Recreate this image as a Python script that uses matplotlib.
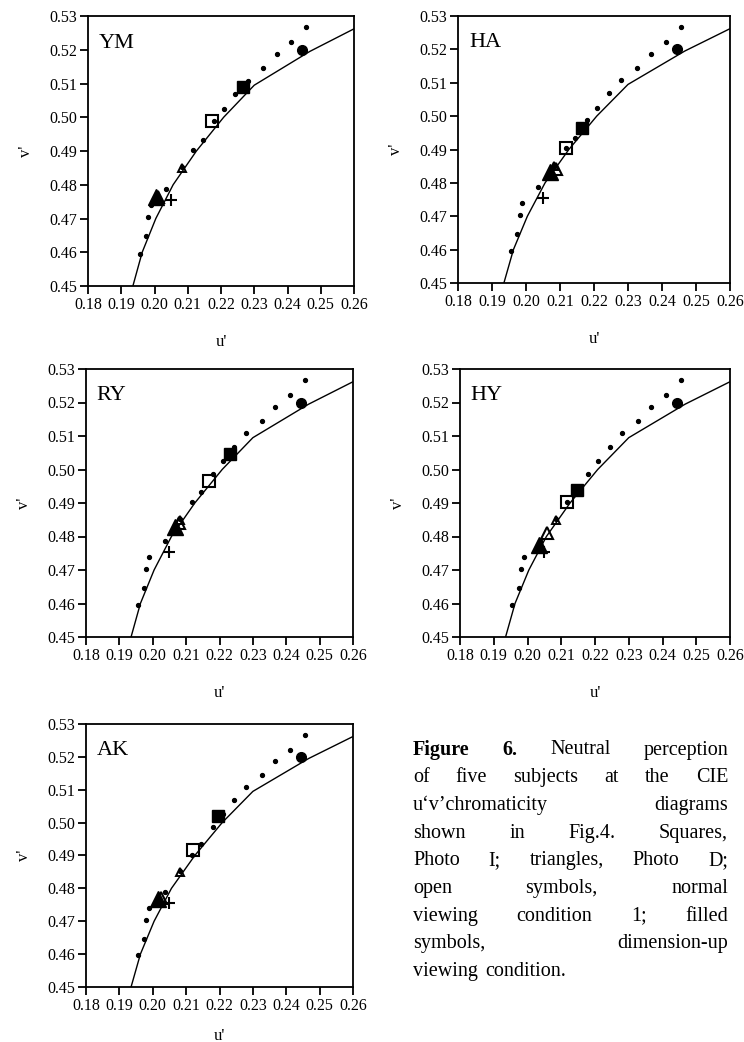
import matplotlib
matplotlib.use("Agg")
import matplotlib.pyplot as plt

plt.rcParams['font.family'] = ['Liberation Serif', 'DejaVu Serif']

# Planckian locus (solid line), u' and v'
locus_u = [0.1935, 0.1963, 0.2004, 0.2056, 0.2126, 0.2208, 0.2300, 0.2467, 0.2600]
locus_v = [0.4500, 0.4600, 0.4700, 0.4800, 0.4900, 0.5000, 0.5095, 0.5195, 0.5262]

# Daylight locus (dots)
daylight_u = [0.1955, 0.1974, 0.1981, 0.1989, 0.2036, 0.2083, 0.2117, 0.2145,
              0.2180, 0.2210, 0.2243, 0.2280, 0.2327, 0.2367, 0.2411, 0.2455]
daylight_v = [0.4596, 0.4647, 0.4703, 0.4740, 0.4788, 0.4852, 0.4903, 0.4934,
              0.4988, 0.5025, 0.5068, 0.5108, 0.5145, 0.5186, 0.5222, 0.5268]

# Reference points common to every subject
ref_plus = (0.2050, 0.4755)
ref_open_tri = (0.2083, 0.4850)
ref_circle = (0.2443, 0.5200)

subjects = ["YM", "HA", "RY", "HY", "AK"]
# Photo I (squares): normal viewing (open) and dimension-up viewing (filled)
sq_open_u = [0.2174, 0.2117, 0.2169, 0.2118, 0.2122]
sq_open_v = [0.4990, 0.4904, 0.4967, 0.4904, 0.4917]
sq_fill_u = [0.2266, 0.2164, 0.2231, 0.2148, 0.2196]
sq_fill_v = [0.5090, 0.4963, 0.5045, 0.4940, 0.5020]
# Photo D (triangles): normal viewing (open) and dimension-up viewing (filled)
tri_open_u = [0.2010, 0.2088, 0.2080, 0.2057, 0.2025]
tri_open_v = [0.4765, 0.4842, 0.4840, 0.4809, 0.4770]
tri_fill_u = [0.2006, 0.2070, 0.2068, 0.2033, 0.2017]
tri_fill_v = [0.4765, 0.4833, 0.4828, 0.4775, 0.4767]

x_ticks = [0.18, 0.19, 0.20, 0.21, 0.22, 0.23, 0.24, 0.25, 0.26]
y_ticks = [0.45, 0.46, 0.47, 0.48, 0.49, 0.50, 0.51, 0.52, 0.53]

W, H = 744, 1042
fig = plt.figure(figsize=(W / 100, H / 100), dpi=100)

# panel boxes in pixels: left, right, top, bottom, gap below axis to u' label
boxes = [(88, 354, 16, 286, 48), (458, 730, 16, 283, 48),
         (86, 353, 369, 637, 48), (460, 730, 369, 637, 48),
         (86, 353, 724, 987, 41)]

for i, name in enumerate(subjects):
    l, r, t, b, xgap = boxes[i]
    ax = fig.add_axes([l / W, 1 - b / H, (r - l) / W, (b - t) / H])
    ax.plot(locus_u, locus_v, color='black', lw=1.0, zorder=2)
    ax.plot(daylight_u, daylight_v, ls='none', marker='o', ms=2.8,
            color='black', zorder=3)
    ax.plot(*ref_circle, marker='o', ms=7, color='black', ls='none', zorder=4)
    ax.plot(*ref_plus, marker='+', ms=8, mew=1.5, color='black', ls='none', zorder=4)
    ax.plot(*ref_open_tri, marker='^', ms=6, mew=1.4, mfc='none', mec='black',
            ls='none', zorder=4)
    ax.plot(tri_open_u[i], tri_open_v[i], marker='^', ms=9, mew=1.5, mfc='none',
            mec='black', ls='none', zorder=4)
    ax.plot(tri_fill_u[i], tri_fill_v[i], marker='^', ms=11, color='black',
            ls='none', zorder=5)
    ax.plot(sq_open_u[i], sq_open_v[i], marker='s', ms=9, mew=1.5, mfc='none',
            mec='black', ls='none', zorder=5)
    ax.plot(sq_fill_u[i], sq_fill_v[i], marker='s', ms=9, color='black',
            ls='none', zorder=5)

    ax.set_xlim(0.18, 0.26)
    ax.set_ylim(0.45, 0.53)
    ax.set_xticks(x_ticks)
    ax.set_yticks(y_ticks)
    ax.set_xticklabels([f"{v:.2f}" for v in x_ticks])
    ax.set_yticklabels([f"{v:.2f}" for v in y_ticks])
    ax.tick_params(direction='out', length=6, width=1.3, labelsize=11.5,
                   pad=2, top=False, right=False)
    for s in ax.spines.values():
        s.set_linewidth(1.3)
    ax.set_xlabel("u'", fontsize=12)
    ax.set_ylabel("v'", fontsize=12)
    ax.xaxis.set_label_coords(0.5, -xgap / (b - t))
    ax.yaxis.set_label_coords(-54 / (r - l), 0.5)
    ax.text(0.04, 0.935, name, transform=ax.transAxes, fontsize=16,
            ha='left', va='top')

# Caption, set as a justified paragraph
caption_lines = [
    [("Figure", 'bold'), ("6.", 'bold'), ("Neutral", 'normal'), ("perception", 'normal')],
    "of five subjects at the CIE",
    "u\u2018v\u2019chromaticity diagrams",
    "shown in Fig.4. Squares,",
    "Photo I; triangles, Photo D;",
    "open symbols, normal",
    "viewing condition 1; filled",
    "symbols, dimension-up",
    "viewing condition.",
]
x_left, x_right = 413, 728
y0, dy = 750, 27.7
fs = 14.5
fig.canvas.draw()
renderer = fig.canvas.get_renderer()
for k, line in enumerate(caption_lines):
    if isinstance(line, str):
        words = [(w, 'normal') for w in line.split()]
    else:
        words = line
    y = 1 - (y0 + k * dy) / H
    texts = []
    widths = []
    for w, weight in words:
        t = fig.text(0, y, w, fontsize=fs, fontweight=weight, va='center', ha='left')
        bb = t.get_window_extent(renderer=renderer)
        texts.append(t)
        widths.append(bb.width)
    last = (k == len(caption_lines) - 1)
    if last or len(words) == 1:
        gap = fs * 0.35 * 100 / 72
    else:
        gap = (x_right - x_left - sum(widths)) / (len(words) - 1)
    x = x_left
    for t, wd in zip(texts, widths):
        t.set_x(x / W)
        x += wd + gap

fig.savefig("out.png", dpi=100)
